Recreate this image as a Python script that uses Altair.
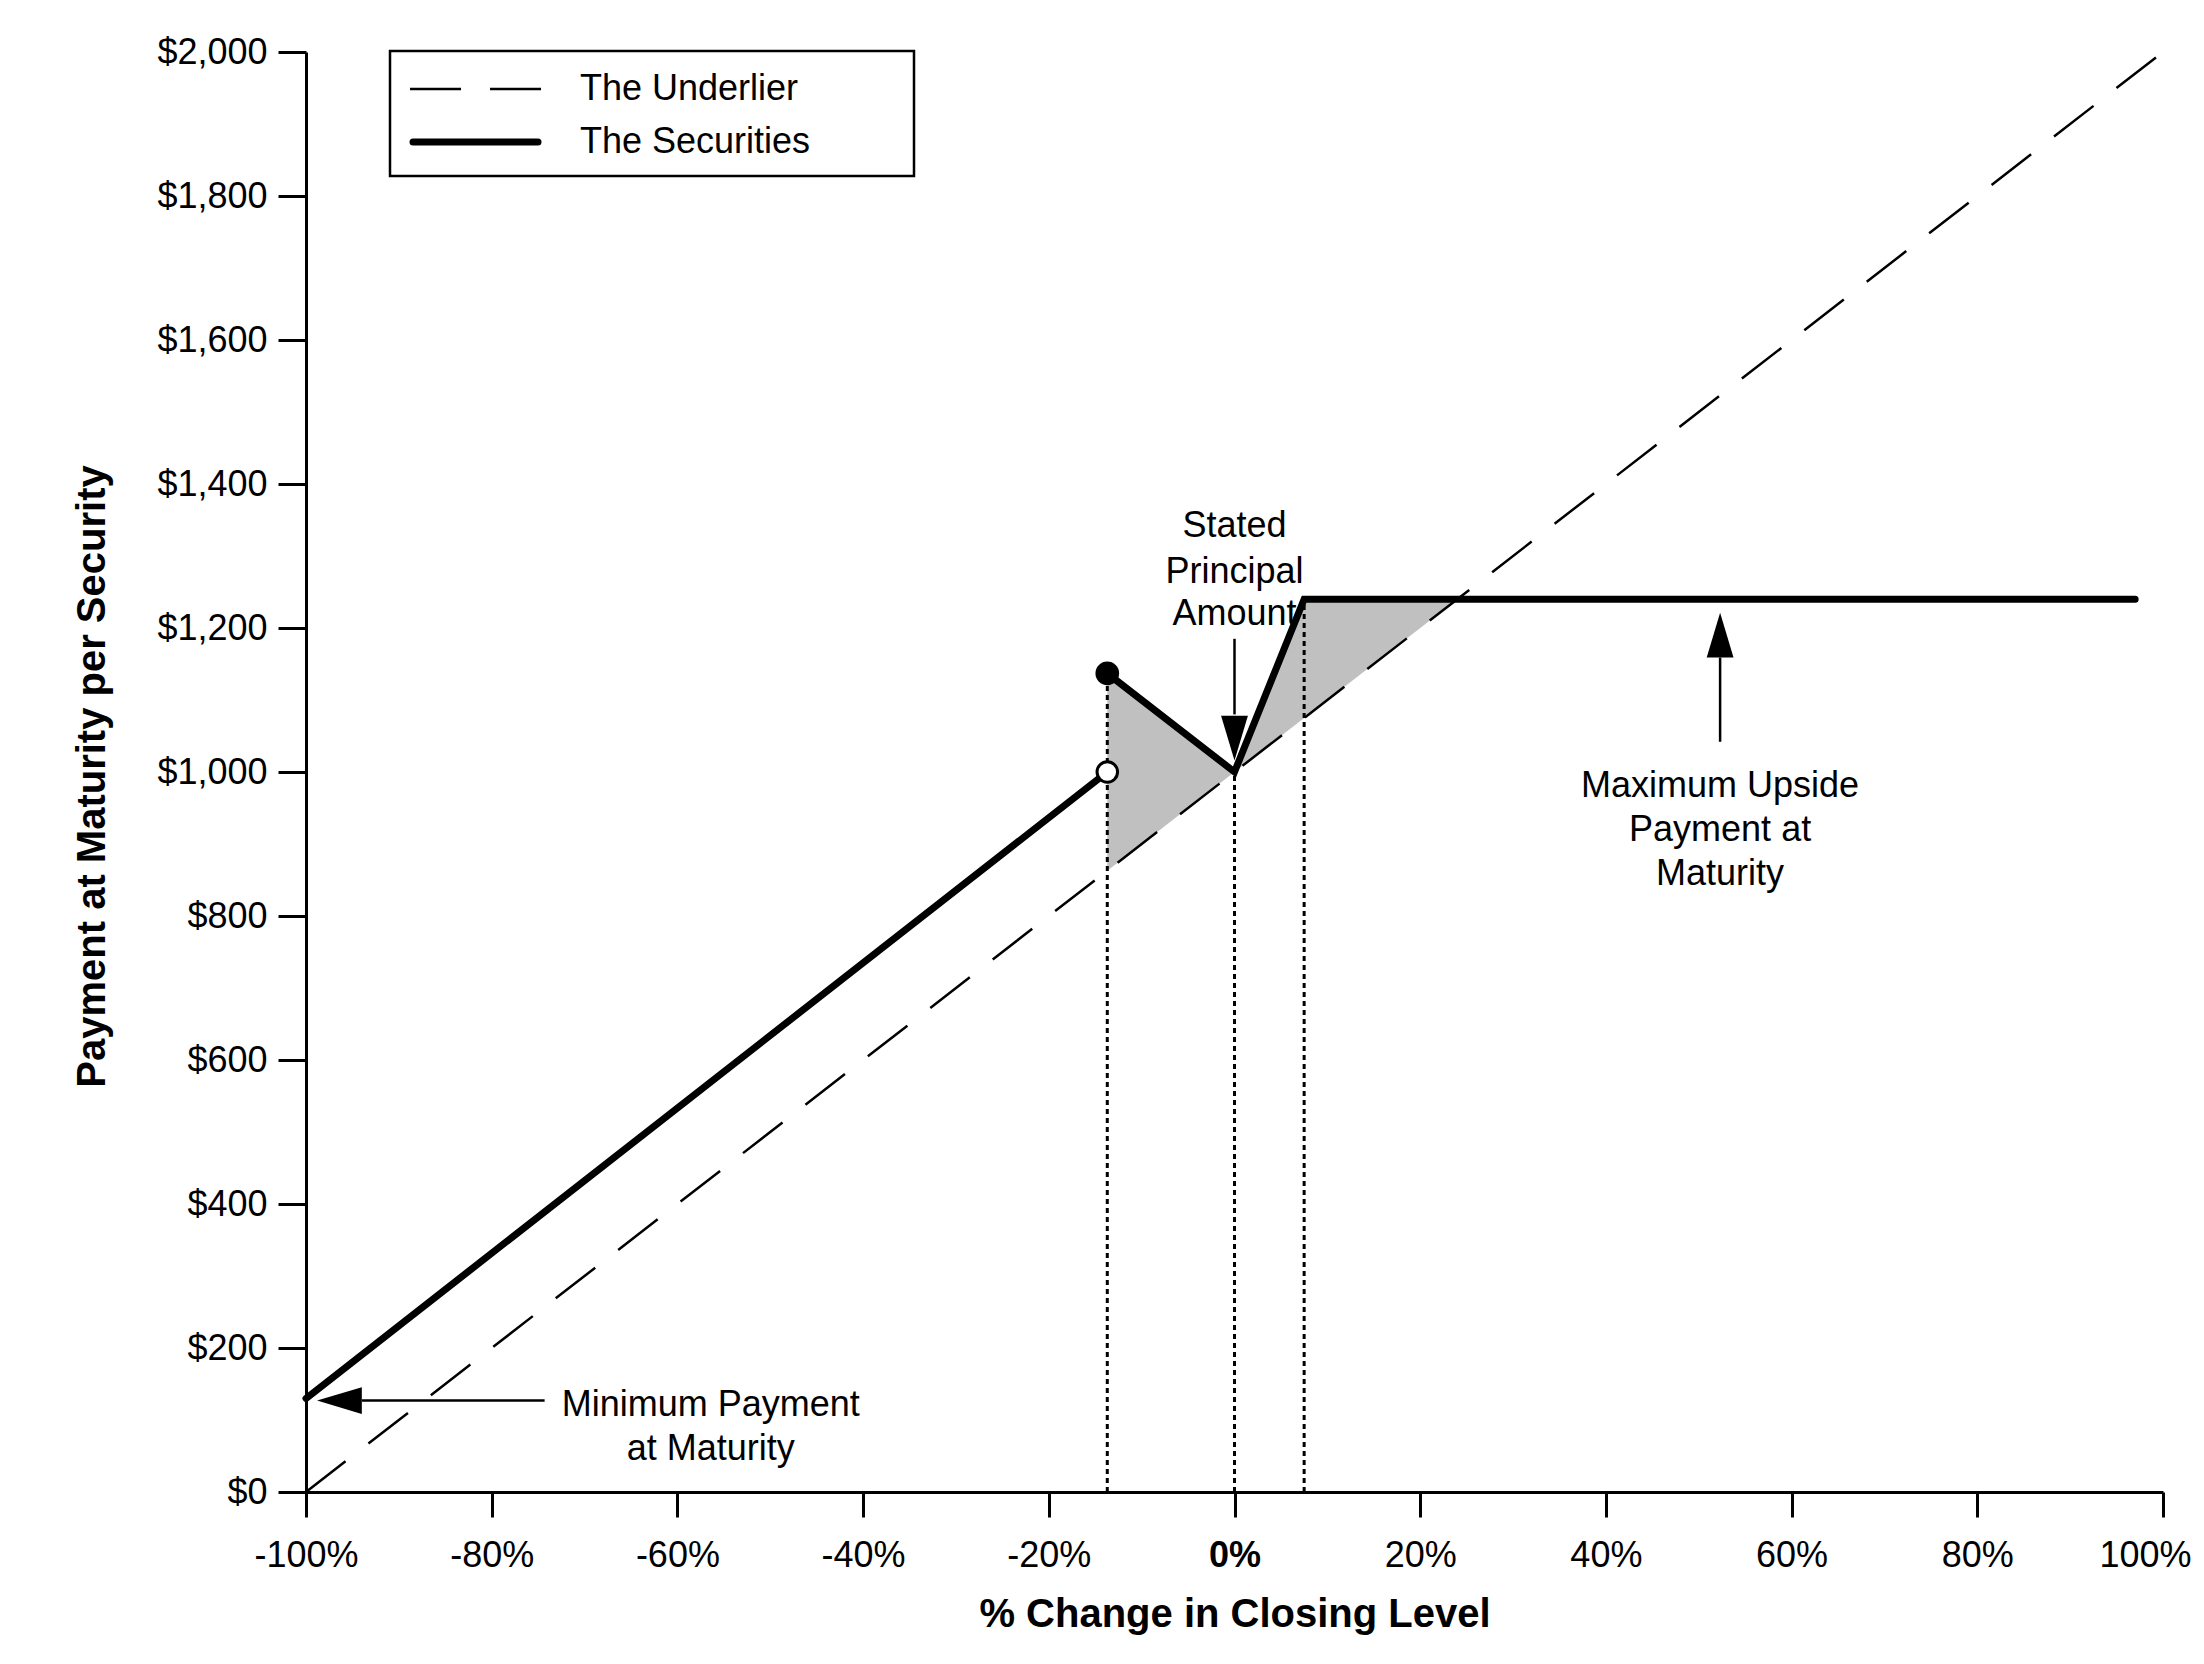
import altair as alt
import pandas as pd

FONT = "Liberation Sans"

# ---------------- values ----------------
x_tick_values = [-100, -80, -60, -40, -20, 0, 20, 40, 60, 80, 100]
y_tick_values = [0, 200, 400, 600, 800, 1000, 1200, 1400, 1600, 1800, 2000]

underlier_x = [-100, 100]
underlier_y = [0, 2000]

sec_down_x = [-100, -13.7]
sec_down_y = [130, 1000]
sec_up_x = [-13.7, 0, 7.5, 97]
sec_up_y = [1137, 1000, 1240, 1240]

shade_x = [-13.7, 0, 7.5, 24]
shade_under = [863, 1000, 1075, 1240]
shade_sec = [1137, 1000, 1240, 1240]

guide_x = [-13.7, 0, 7.5]
guide_top = [1137, 1000, 1240]

closed_pt_x = [-13.7]
closed_pt_y = [1137]
open_pt_x = [-13.7]
open_pt_y = [1000]

note_text = ["Stated", "Principal", "Amount",
             "Maximum Upside", "Payment at", "Maturity",
             "Minimum Payment", "at Maturity"]
note_x = [0, 0, 0, 52.3, 52.3, 52.3, -56.4, -56.4]
note_y = [1341, 1278, 1220, 981, 919, 858, 121, 60]

shaft_x = [0, 52.3, -94]
shaft_x2 = [0, 52.3, -74.3]
shaft_y = [1080, 1159, 127]
shaft_y2 = [1185, 1042, 127]

head_x = [0, 52.3, -96.4]
head_y = [1047, 1190, 127]
head_dir = ["down", "up", "left"]

legend_labels = ["The Underlier", "The Securities"]

# ---------------- build tables ----------------
shape_paths = {
    "down": "M-0.6,-1L0.6,-1L0,1Z",
    "up": "M0,-1L0.6,1L-0.6,1Z",
    "left": "M-1,0L1,-0.6L1,0.6Z",
}

df_under = pd.DataFrame({"x": underlier_x, "y": underlier_y})
df_sec = pd.DataFrame({
    "x": sec_down_x + sec_up_x,
    "y": sec_down_y + sec_up_y,
    "seg": ["a"] * len(sec_down_x) + ["b"] * len(sec_up_x),
})
df_shade = pd.DataFrame({"x": shade_x, "y": shade_under, "y2": shade_sec})
df_guide = pd.DataFrame({"x": guide_x, "y": [0] * len(guide_x), "y2": guide_top})
df_closed = pd.DataFrame({"x": closed_pt_x, "y": closed_pt_y})
df_open = pd.DataFrame({"x": open_pt_x, "y": open_pt_y})
df_notes = pd.DataFrame({"x": note_x, "y": note_y, "t": note_text})
df_shaft = pd.DataFrame({"x": shaft_x, "x2": shaft_x2, "y": shaft_y, "y2": shaft_y2})
df_head = pd.DataFrame({"x": head_x, "y": head_y,
                        "shape": [shape_paths[d] for d in head_dir]})
df_one = pd.DataFrame({"k": [0]})

xs = alt.Scale(domain=[-100, 100], nice=False, zero=False)
ys = alt.Scale(domain=[0, 2000], nice=False, zero=False)

x_axis = alt.Axis(
    values=x_tick_values,
    labelExpr="datum.value + '%'",
    title="% Change in Closing Level",
    titleFont=FONT, titleFontSize=40, titleFontWeight="bold", titleColor="black",
    titleX=928.5, titleY=134, titleBaseline="alphabetic", titleAlign="center",
    labelFont=FONT, labelFontSize=36, labelColor="black",
    labelFontWeight={"condition": {"test": "datum.value == 0", "value": "bold"},
                     "value": "normal"},
    labelOffset={"condition": {"test": "datum.value == 100", "value": -18},
                 "value": 0},
    labelPadding=21, labelFlush=False, labelOverlap=False,
    tickSize=25, tickWidth=3, tickColor="black",
    domainColor="black", domainWidth=3, grid=False,
)
y_axis = alt.Axis(
    values=y_tick_values,
    format="$,.0f",
    title="Payment at Maturity per Security",
    titleFont=FONT, titleFontSize=40, titleFontWeight="bold", titleColor="black",
    titleX=-214, titleY=724, titleBaseline="middle", titleAlign="center",
    labelFont=FONT, labelFontSize=36, labelColor="black",
    labelPadding=11, labelOverlap=False,
    tickSize=28, tickWidth=3, tickColor="black",
    domainColor="black", domainWidth=3, grid=False,
)

X = alt.X("x:Q", scale=xs, axis=x_axis)
Y = alt.Y("y:Q", scale=ys, axis=y_axis)

shade = alt.Chart(df_shade).mark_area(color="#c0c0c0", opacity=1).encode(
    x=X, y=Y, y2=alt.Y2("y2:Q"))

guides = alt.Chart(df_guide).mark_rule(
    color="black", strokeWidth=3, strokeDash=[5, 4]).encode(
    x=X, y=Y, y2=alt.Y2("y2:Q"))

under = alt.Chart(df_under).mark_line(
    color="black", strokeWidth=2.5, strokeDash=[50, 29]).encode(x=X, y=Y)

sec = alt.Chart(df_sec).mark_line(
    color="black", strokeWidth=7, strokeCap="round").encode(
    x=X, y=Y, detail="seg:N")

closed = alt.Chart(df_closed).mark_point(
    filled=True, color="black", opacity=1, size=560).encode(x=X, y=Y)

opened = alt.Chart(df_open).mark_point(
    filled=False, fill="white", fillOpacity=1, stroke="black", strokeWidth=3,
    opacity=1, size=420).encode(x=X, y=Y)

shafts = alt.Chart(df_shaft).mark_rule(color="black", strokeWidth=2.5).encode(
    x=X, x2=alt.X2("x2:Q"), y=Y, y2=alt.Y2("y2:Q"))

heads = alt.Chart(df_head).mark_point(
    filled=True, color="black", opacity=1, size=2000, strokeWidth=0).encode(
    x=X, y=Y, shape=alt.Shape("shape:N", scale=None, legend=None))

notes = alt.Chart(df_notes).mark_text(
    font=FONT, fontSize=36, color="black", align="center", baseline="middle").encode(
    x=X, y=Y, text="t:N")

legend_box = alt.Chart(df_one).mark_rect(
    fill="white", stroke="black", strokeWidth=2.5).encode(
    x=alt.value(84), x2=alt.value(608), y=alt.value(-1), y2=alt.value(124))
legend_dash = alt.Chart(df_one).mark_rule(
    color="black", strokeWidth=2.5, strokeDash=[51, 29]).encode(
    x=alt.value(104), x2=alt.value(235), y=alt.value(37))
legend_solid = alt.Chart(df_one).mark_rule(
    color="black", strokeWidth=7, strokeCap="round").encode(
    x=alt.value(107), x2=alt.value(232), y=alt.value(90))
legend_t1 = alt.Chart(df_one).mark_text(
    font=FONT, fontSize=36, color="black", align="left", baseline="middle").encode(
    x=alt.value(274), y=alt.value(37), text=alt.value(legend_labels[0]))
legend_t2 = alt.Chart(df_one).mark_text(
    font=FONT, fontSize=36, color="black", align="left", baseline="middle").encode(
    x=alt.value(274), y=alt.value(90), text=alt.value(legend_labels[1]))

chart = alt.layer(
    shade, guides, under, sec, closed, opened, shafts, heads, notes,
    legend_box, legend_dash, legend_solid, legend_t1, legend_t2,
).properties(
    width=1857, height=1440,
    autosize=alt.AutoSizeParams(type="none"),
    padding={"left": 298, "top": 44, "right": 33, "bottom": 150},
).configure_view(strokeWidth=0)

chart.save("out.html", embed_options={"renderer": "svg", "actions": False})
